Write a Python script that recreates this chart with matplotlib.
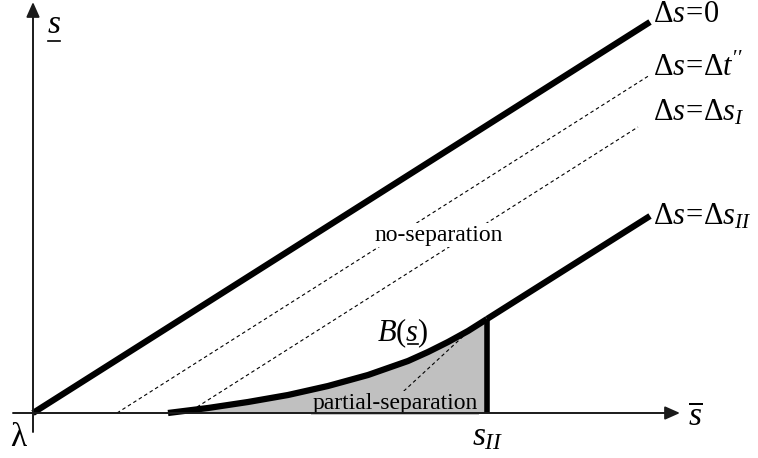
import matplotlib
matplotlib.use("Agg")
import matplotlib.pyplot as plt
from matplotlib.lines import Line2D
from matplotlib.transforms import IdentityTransform


# diagram values, origin at lambda, one unit ~ one pixel
ZERO_X = [0, 617]
ZERO_Y = [0, 391]
DT_X = [84, 617]
DT_Y = [0, 338]
SI_X = [164, 605]
SI_Y = [6, 286]
TAN_X = [347, 437]
TAN_Y = [0, 83]
SII_X = [454, 617]
SII_Y = [94, 197]
B_X = [135, 155, 175, 195, 215, 235, 255, 275, 295, 315, 335, 355, 375, 395, 415, 435, 454]
B_Y = [0, 2.5, 5, 8, 11, 14.5, 18, 22.5, 27, 32.5, 38, 45, 52, 61, 71, 82, 94]
S_II = 454

LINE_LABELS = [r"$\Delta s\!=\!0$", r"$\Delta s\!=\!\Delta t''$",
               r"$\Delta s\!=\!\Delta s_{I}$", r"$\Delta s\!=\!\Delta s_{II}$"]
LINE_LABEL_Y = [398, 345, 300, 196]

plt.rcParams["font.family"] = ["Liberation Serif", "DejaVu Serif"]
plt.rcParams["mathtext.fontset"] = "custom"
plt.rcParams["mathtext.rm"] = "Liberation Serif"
plt.rcParams["mathtext.it"] = "Liberation Serif:italic"


def underline(ax, txt, before, chars):
    # draw a short bar under part of a mathtext string
    renderer = ax.figure.canvas.get_renderer()
    prop = txt.get_fontproperties()
    bbox = txt.get_window_extent(renderer)
    w0 = 0
    if before:
        w0 = renderer.get_text_width_height_descent("$" + before + "$", prop, ismath=True)[0]
    w1 = renderer.get_text_width_height_descent("$" + before + chars + "$", prop, ismath=True)[0]
    descent = renderer.get_text_width_height_descent(txt.get_text(), prop, ismath=True)[2]
    y = bbox.y0 + descent - 3
    line = Line2D([bbox.x0 + w0 + 1, bbox.x0 + w1 - 1], [y, y], color="black", lw=1.2,
                  transform=IdentityTransform())
    ax.add_artist(line)


fig = plt.figure(figsize=(7.58, 4.58), dpi=100)
ax = fig.add_axes([0, 0, 1, 1])
ax.set_xlim(-33, 725)
ax.set_ylim(-45, 413)
ax.axis("off")

arrow = dict(arrowstyle="-|>,head_length=0.45,head_width=0.2", lw=1.4, color="#1a1a1a",
             shrinkA=0, shrinkB=0, mutation_scale=20)
ax.annotate("", xy=(647, 0), xytext=(-20, 0), arrowprops=arrow)
ax.annotate("", xy=(0, 411), xytext=(0, -19), arrowprops=arrow)

ax.fill_between(B_X, 0, B_Y, color="#c0c0c0", lw=0, zorder=1)

dash = (0, (3.2, 2.6))
ax.plot(DT_X, DT_Y, color="black", lw=0.8, linestyle=dash)
ax.plot(SI_X, SI_Y, color="black", lw=0.8, linestyle=dash)
ax.plot(TAN_X, TAN_Y, color="black", lw=0.8, linestyle=dash, zorder=1.2)

ax.plot(ZERO_X, ZERO_Y, color="black", lw=4.5, solid_capstyle="butt")
ax.plot(SII_X, SII_Y, color="black", lw=4.5, solid_capstyle="butt")
ax.plot(B_X, B_Y, color="black", lw=4.5, solid_capstyle="butt", solid_joinstyle="round")
ax.plot([S_II, S_II], [0, B_Y[-1]], color="black", lw=4.0, solid_capstyle="butt")

for label, y in zip(LINE_LABELS, LINE_LABEL_Y):
    ax.text(620, y, label, fontsize=22, va="center", ha="left")

ax.text(406, 178, "no-separation", fontsize=17, ha="center", va="center",
        bbox=dict(facecolor="white", edgecolor="none", pad=1))
ax.text(362, 10, "partial-separation", fontsize=17, ha="center", va="center", zorder=1.5,
        bbox=dict(facecolor="#c0c0c0", edgecolor="none", pad=1))

b_label = ax.text(370, 80, r"$B(s)$", fontsize=22, ha="center", va="center")
s_label = ax.text(21, 388, r"$s$", fontsize=24, ha="center", va="center")
ax.text(662, -4, r"$\overline{s}$", fontsize=24, ha="center", va="center")
ax.text(455, -24, r"$s_{II}$", fontsize=24, ha="center", va="center")
ax.text(-15, -25, "λ", fontsize=24, ha="center", va="center")

fig.canvas.draw()
underline(ax, b_label, "B(", "s")
underline(ax, s_label, "", "s")

fig.savefig("out.png", dpi=100)
